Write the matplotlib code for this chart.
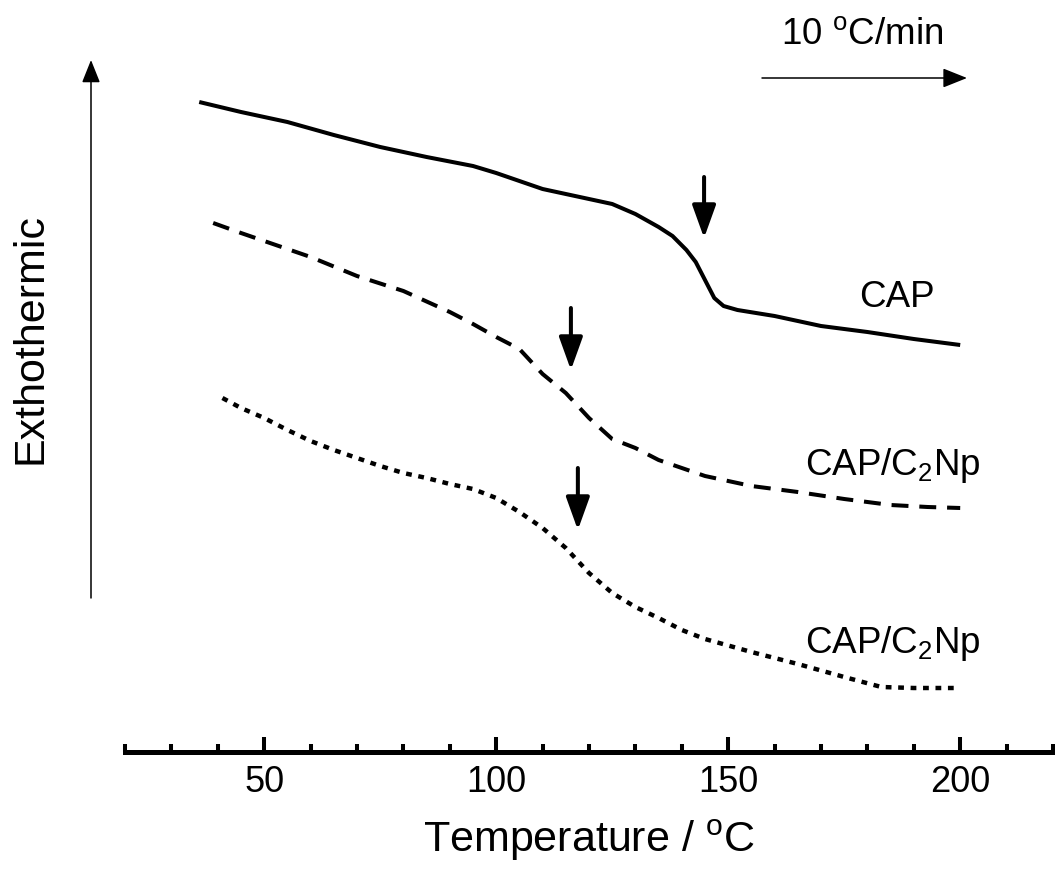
import matplotlib
matplotlib.use("Agg")
import matplotlib.pyplot as plt
from matplotlib.ticker import MultipleLocator

plt.rcParams["font.family"] = ["Liberation Sans", "DejaVu Sans"]
plt.rcParams["mathtext.fontset"] = "custom"
plt.rcParams["mathtext.rm"] = "Liberation Sans"

# DSC traces, heat flow in arbitrary units
t_cap = [36, 45, 55, 65, 75, 85, 95, 100, 105, 110, 115, 120, 125, 130, 135,
         138, 141, 143, 145, 147, 149, 152, 160, 170, 180, 190, 200]
q_cap = [6.50, 6.40, 6.30, 6.17, 6.05, 5.95, 5.86, 5.79, 5.71, 5.63, 5.58, 5.53,
         5.48, 5.38, 5.25, 5.16, 5.02, 4.90, 4.72, 4.54, 4.46, 4.42, 4.36, 4.26,
         4.20, 4.13, 4.07]

t_np1 = [39, 45, 50, 60, 70, 80, 90, 95, 100, 105, 110, 115, 120, 125, 130,
         135, 145, 155, 165, 175, 185, 193, 200]
q_np1 = [5.29, 5.19, 5.11, 4.95, 4.76, 4.61, 4.40, 4.28, 4.15, 4.03, 3.78, 3.59,
         3.34, 3.13, 3.04, 2.92, 2.76, 2.66, 2.60, 2.53, 2.47, 2.45, 2.44]

t_np2 = [41, 45, 50, 55, 60, 65, 70, 75, 80, 85, 90, 95, 100, 105, 110, 115,
         120, 125, 130, 135, 140, 145, 155, 165, 175, 183, 190, 200]
q_np2 = [3.54, 3.44, 3.34, 3.22, 3.11, 3.02, 2.94, 2.86, 2.79, 2.74, 2.68, 2.63,
         2.54, 2.40, 2.24, 2.04, 1.79, 1.59, 1.45, 1.34, 1.22, 1.13, 1.00, 0.88,
         0.75, 0.65, 0.64, 0.64]

# Tg markers: (temperature, arrow top, arrow tip)
tg_marks = [(144.8, 5.75, 5.14), (116.1, 4.44, 3.82), (117.6, 2.84, 2.22)]

labels = ["CAP", r"CAP/C$_{\mathrm{2}}$Np", r"CAP/C$_{\mathrm{2}}$Np"]
label_pos = [(186.4, 4.45), (185.5, 2.77), (185.5, 0.99)]

fig = plt.figure(figsize=(10.55, 8.74), dpi=100)
ax = fig.add_axes([125 / 1055, 122 / 874, 928 / 1055, 752 / 874])

ax.plot(t_cap, q_cap, color="black", lw=2.9, solid_capstyle="butt")
ax.plot(t_np1, q_np1, color="black", lw=2.9, linestyle=(0, (4.2, 2.7)))
ax.plot(t_np2, q_np2, color="black", lw=3.2, linestyle=(0, (1.3, 1.5)))

for t, top, tip in tg_marks:
    ax.annotate("", xy=(t, tip), xytext=(t, top),
                arrowprops=dict(arrowstyle="-|>,head_length=1.0,head_width=0.36",
                                lw=2.9, color="black", mutation_scale=20,
                                shrinkA=0, shrinkB=0))

for txt, (x, y) in zip(labels, label_pos):
    ax.text(x, y, txt, fontsize=26.5, ha="center", va="baseline")

ax.set_xlim(20, 220)
ax.set_ylim(0, 7.52)
ax.xaxis.set_major_locator(MultipleLocator(50))
ax.xaxis.set_minor_locator(MultipleLocator(10))
ax.set_xticks([50, 100, 150, 200])
for s in ["left", "right", "top"]:
    ax.spines[s].set_visible(False)
ax.spines["bottom"].set_linewidth(3.6)
ax.set_yticks([])
ax.tick_params(axis="x", which="major", direction="in", length=11, width=2.9,
               labelsize=26, pad=9)
ax.tick_params(axis="x", which="minor", direction="in", length=6, width=2.9)
ax.set_xlabel(r"Temperature / $^{\mathrm{o}}$C", fontsize=31, labelpad=13)

# left "Exthothermic" arrow and heating-rate arrow, in figure pixels
ax.annotate("", xy=(91, 814), xytext=(91, 276), xycoords="figure pixels",
            textcoords="figure pixels",
            arrowprops=dict(arrowstyle="-|>,head_length=1.0,head_width=0.4",
                            lw=1.1, color="black", mutation_scale=14,
                            shrinkA=0, shrinkB=0))
fig.text(31 / 1055, 536 / 874, "Exthothermic", rotation=90, fontsize=31,
         ha="center", va="center")

ax.annotate("", xy=(967, 796), xytext=(762, 796), xycoords="figure pixels",
            textcoords="figure pixels",
            arrowprops=dict(arrowstyle="-|>,head_length=1.0,head_width=0.4",
                            lw=1.1, color="black", mutation_scale=15,
                            shrinkA=0, shrinkB=0))
fig.text(862 / 1055, 829 / 874, r"10 $^{\mathrm{o}}$C/min", fontsize=26.5,
         ha="center", va="baseline")

fig.savefig("out.png", dpi=100)
